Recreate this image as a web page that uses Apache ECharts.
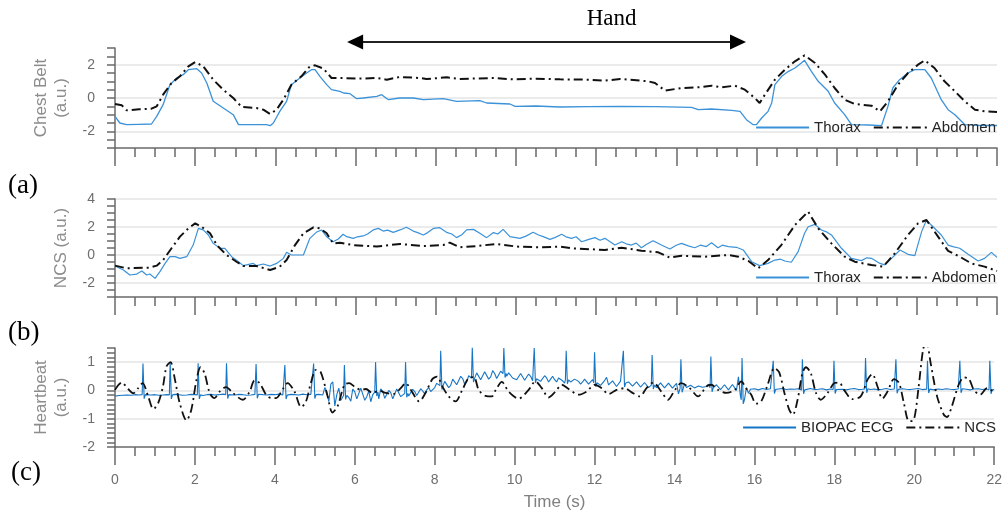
<!DOCTYPE html>
<html><head><meta charset="utf-8">
<script src="https://cdn.jsdelivr.net/npm/echarts@6/dist/echarts.min.js"></script>
<style>html,body{margin:0;padding:0;background:#fff}#c{width:1005px;height:512px}</style>
</head><body><div id="c"></div>
<script>
// ---------------- data ----------------
const timeTicks = [0,2,4,6,8,10,12,14,16,18,20,22];
const handSpan = [5.79, 15.74];

// (a) Chest belt
const beltThorax = [[0,-1.1],[0.12,-1.5],[0.29,-1.6],[0.6,-1.58],[0.91,-1.56],[1.04,-1.1],[1.2,-0.4],[1.37,0.8],[1.54,1.2],[1.7,1.4],[1.83,1.7],[2.04,1.76],[2.16,1.5],[2.29,0.9],[2.45,-0.2],[2.7,-0.6],[2.95,-1.0],[3.08,-1.6],[3.37,-1.6],[3.78,-1.6],[3.87,-1.66],[3.95,-1.5],[4.11,-0.8],[4.28,-0.2],[4.4,0.8],[4.61,1.2],[4.78,1.5],[4.9,1.7],[4.99,1.7],[5.11,1.3],[5.28,0.8],[5.4,0.5],[5.61,0.4],[5.7,0.3],[5.86,0.26],[6.03,-0.04],[6.19,0],[6.53,0.1],[6.65,0.2],[6.82,-0.1],[7.1,0],[7.44,0],[7.69,-0.1],[8.19,-0.04],[8.52,-0.2],[9.1,-0.16],[9.27,-0.3],[9.85,-0.36],[9.98,-0.5],[10.5,-0.48],[11.1,-0.54],[11.8,-0.52],[12.6,-0.5],[13.47,-0.52],[14.38,-0.56],[14.55,-0.7],[14.88,-0.66],[15.38,-0.74],[15.59,-0.8],[15.75,-1.3],[15.92,-1.6],[16.0,-1.6],[16.13,-1.2],[16.29,-0.8],[16.38,-0.3],[16.46,0.8],[16.63,1.3],[16.8,1.6],[16.96,1.8],[17.12,2.1],[17.2,2.26],[17.37,1.6],[17.54,1.0],[17.79,0.4],[17.95,-0.3],[18.2,-1.0],[18.37,-1.6],[18.8,-1.62],[19.12,-1.66],[19.28,-0.5],[19.4,0.6],[19.57,1.1],[19.78,1.5],[19.95,1.7],[20.2,1.7],[20.36,1.2],[20.61,-0.1],[20.78,-0.7],[20.95,-1.0],[21.2,-1.6],[21.6,-1.65],[22,-1.65]];
const beltAbdomen = [[0,-0.36],[0.17,-0.44],[0.29,-0.74],[0.6,-0.68],[0.91,-0.64],[1.04,-0.5],[1.2,0.2],[1.41,0.9],[1.62,1.3],[1.83,1.9],[2.0,2.16],[2.2,1.9],[2.45,1.1],[2.7,0.5],[2.95,0],[3.16,-0.54],[3.53,-0.6],[3.7,-0.7],[3.87,-0.96],[4.03,-0.7],[4.2,-0.1],[4.4,0.8],[4.65,1.3],[4.86,1.9],[4.99,1.96],[5.2,1.76],[5.4,1.2],[5.69,1.2],[6.03,1.16],[6.53,1.2],[6.78,1.1],[7.1,1.26],[7.6,1.2],[7.77,1.14],[8.27,1.24],[8.6,1.14],[9.43,1.2],[9.93,1.12],[10.5,1.16],[11.1,1.12],[11.8,1.1],[12.2,1.04],[12.6,1.14],[13.3,1.0],[13.47,0.9],[13.72,0.44],[14.13,0.6],[14.55,0.64],[14.88,0.74],[15.13,0.64],[15.46,0.74],[15.71,0.5],[15.96,0],[16.08,-0.3],[16.21,0.2],[16.46,1.1],[16.71,1.7],[16.96,2.2],[17.2,2.56],[17.46,2.1],[17.71,1.4],[17.95,0.6],[18.2,-0.1],[18.45,-0.36],[18.87,-0.46],[19.08,-0.8],[19.28,-0.2],[19.53,0.8],[19.78,1.5],[20.03,2.0],[20.2,2.26],[20.44,1.8],[20.69,1.0],[20.95,0.4],[21.2,-0.2],[21.45,-0.7],[21.7,-0.8],[22,-0.84]];

// (b) NCS
const ncsThorax = [[0,-0.79],[0.21,-1.07],[0.37,-1.43],[0.54,-1.36],[0.67,-1.14],[0.79,-1.43],[0.87,-1.36],[1.0,-1.67],[1.12,-1.19],[1.25,-0.6],[1.37,-0.12],[1.5,-0.12],[1.62,-0.24],[1.79,-0.12],[1.95,0.71],[2.08,1.9],[2.2,1.79],[2.33,1.43],[2.45,0.83],[2.62,0.48],[2.74,0.48],[2.91,-0.12],[3.08,-0.48],[3.2,-0.76],[3.45,-0.6],[3.53,-0.76],[3.7,-0.64],[3.87,-0.79],[4.03,-0.6],[4.2,-0.24],[4.28,0.19],[4.4,0],[4.7,0],[4.86,1.19],[5.02,1.62],[5.15,1.79],[5.28,1.31],[5.44,0.95],[5.57,1.14],[5.69,1.48],[5.78,1.31],[5.94,1.19],[6.05,1.3],[6.19,1.36],[6.3,1.5],[6.44,1.79],[6.57,1.9],[6.69,1.71],[6.8,1.78],[6.94,1.62],[7.11,1.79],[7.27,1.98],[7.44,1.71],[7.55,1.6],[7.69,1.43],[7.8,1.6],[7.94,1.9],[8.1,1.95],[8.27,1.62],[8.4,1.5],[8.52,1.24],[8.65,1.45],[8.77,1.79],[8.94,1.83],[9.1,1.55],[9.27,1.24],[9.44,1.6],[9.55,1.5],[9.68,1.83],[9.85,1.31],[10.1,1.19],[10.25,1.35],[10.43,1.62],[10.55,1.45],[10.68,1.31],[10.85,1.12],[10.97,1.24],[11.14,1.48],[11.25,1.3],[11.39,1.19],[11.5,1.3],[11.64,0.95],[11.8,1.1],[11.97,1.24],[12.1,1.05],[12.22,1.19],[12.35,0.95],[12.47,0.71],[12.64,0.95],[12.75,0.8],[12.88,0.71],[13.0,0.85],[13.13,0.52],[13.25,0.75],[13.42,1.02],[13.63,0.71],[13.84,0.43],[14.0,0.7],[14.13,0.83],[14.3,0.65],[14.46,0.52],[14.6,0.7],[14.75,0.6],[14.88,0.88],[15.04,0.52],[15.15,0.7],[15.3,0.6],[15.5,0.55],[15.67,0.36],[15.88,-0.48],[16.08,-0.76],[16.29,-0.6],[16.46,-0.36],[16.6,-0.3],[16.71,-0.43],[16.87,-0.52],[17.04,0.24],[17.2,1.55],[17.29,2.02],[17.46,2.19],[17.62,1.79],[17.75,1.65],[17.87,1.43],[18.12,0.48],[18.37,-0.24],[18.62,-0.4],[18.75,-0.2],[18.87,-0.24],[19.08,-0.6],[19.2,-0.71],[19.37,-0.24],[19.58,0.36],[19.78,0.05],[19.95,-0.05],[20.12,1.67],[20.24,2.5],[20.36,2.14],[20.61,1.43],[20.78,0.71],[20.9,0.6],[21.07,0.48],[21.28,0.05],[21.53,-0.43],[21.69,-0.24],[21.86,0.19],[22,-0.17]];
const ncsAbdomen = [[0,-0.76],[0.29,-0.95],[0.87,-0.9],[1.04,-0.76],[1.2,-0.36],[1.41,0.48],[1.62,1.31],[1.83,1.9],[2.0,2.26],[2.16,2.02],[2.37,1.55],[2.54,0.71],[2.78,0],[3.03,-0.48],[3.2,-0.79],[3.53,-0.79],[3.87,-1.07],[4.11,-0.83],[4.28,-0.36],[4.49,0.71],[4.7,1.55],[4.95,1.98],[5.11,1.9],[5.28,1.55],[5.44,0.83],[5.61,0.88],[5.94,0.71],[6.53,0.6],[7.11,0.79],[7.69,0.64],[8.19,0.71],[8.35,0.88],[8.6,0.55],[9.02,0.64],[9.52,0.79],[10.02,0.6],[10.6,0.55],[11.1,0.6],[11.39,0.48],[12.22,0.36],[12.64,0.52],[13.13,0.31],[13.55,0.19],[13.84,-0.19],[14.13,-0.05],[14.71,-0.12],[15.3,0],[15.55,-0.12],[15.8,-0.43],[16.04,-0.95],[16.29,-0.36],[16.62,0.71],[16.96,2.14],[17.29,3.1],[17.54,1.9],[17.87,0.83],[18.2,-0.12],[18.45,-0.48],[18.87,-0.71],[19.16,-0.83],[19.45,0.12],[19.78,1.43],[20.03,2.26],[20.24,2.5],[20.53,1.31],[20.78,0.29],[21.07,-0.12],[21.36,-0.6],[21.69,-0.83],[22,-1.14]];

// (c) Heartbeat: ECG baseline sampled every 0.1 s, extra mid-samples in the noisy span, R peaks, NCS heartbeat
const ecgStep = 0.1;
const ecgBaseline = [
 -0.2,-0.18,-0.17,-0.16,-0.17,-0.15,-0.16,-0.15,-0.18,-0.16,
 -0.15,-0.17,-0.16,-0.15,-0.16,-0.14,-0.15,-0.17,-0.16,-0.14,
 -0.15,-0.16,-0.18,-0.15,-0.14,-0.16,-0.15,-0.13,-0.15,-0.17,
 -0.16,-0.14,-0.15,-0.17,-0.16,-0.14,-0.13,-0.15,-0.16,-0.14,
 -0.15,-0.13,-0.16,-0.17,-0.14,-0.15,-0.16,-0.13,-0.15,-0.14,
 -0.15,-0.14,-0.16,-0.05,0.22,-0.55,0.08,-0.32,0.04,-0.38,
 -0.05,-0.28,0.02,-0.22,-0.4,0.0,-0.3,-0.04,-0.22,-0.08,
 -0.25,0.0,-0.2,-0.06,-0.16,-0.04,-0.12,-0.02,0.02,-0.04,
 0.1,0.22,0.12,0.3,0.18,0.36,0.26,0.42,0.3,0.46,
 0.4,0.56,0.44,0.6,0.48,0.6,0.46,0.64,0.5,0.56,
 0.5,0.44,0.56,0.42,0.5,0.4,0.46,0.38,0.44,0.4,
 0.38,0.44,0.34,0.38,0.3,0.4,0.32,0.3,0.36,0.28,
 0.27,0.32,0.24,0.46,0.22,0.3,0.2,0.27,0.22,0.26,
 0.2,0.27,0.17,0.23,0.15,0.25,0.16,0.21,0.15,0.19,
 0.15,-0.12,0.2,0.1,0.18,0.09,0.16,0.11,0.14,0.09,
 0.12,0.15,0.07,0.13,0.09,0.14,0.48,-0.42,0.1,0.04,
 0.06,0.02,0.07,0.03,0.06,0.02,0.05,0.07,0.03,0.05,
 0.04,0.06,0.02,0.05,0.07,0.03,0.04,0.06,0.02,0.05,
 0.03,0.06,0.04,0.02,0.05,0.07,0.03,0.04,0.06,0.03,
 0.05,0.02,0.04,0.07,0.03,0.05,0.02,0.06,0.04,0.03,
 0.05,0.07,0.03,0.04,0.06,0.02,0.05,0.03,0.06,0.04,
 0.03,0.05,0.07,0.04,0.02,0.05,0.06,0.03,0.05,0.02,
 0.03];
const ecgMidStart = 5.05;   // mid-samples at 5.05, 5.15, ... 15.95
const ecgMid = [
 -0.16,-0.14,0.1,-0.4,0.3,-0.15,-0.35,0.12,-0.25,0.05,
 -0.3,0.08,-0.35,-0.02,-0.15,-0.32,0.06,-0.28,0.0,-0.3,
 0.05,-0.22,0.02,-0.2,0.04,-0.18,0.06,-0.12,0.1,0.0,
 0.25,0.05,0.32,0.1,0.4,0.2,0.5,0.22,0.52,0.3,
 0.62,0.38,0.66,0.4,0.7,0.42,0.68,0.45,0.62,0.44,
 0.38,0.6,0.36,0.58,0.34,0.55,0.32,0.52,0.3,0.5,
 0.3,0.46,0.26,0.44,0.24,0.46,0.22,0.4,0.22,0.38,
 0.36,0.18,0.35,0.2,0.34,0.14,0.33,0.16,0.3,0.15,
 0.3,0.12,0.28,0.1,0.3,0.1,0.27,0.09,0.26,0.08,
 0.25,0.06,0.24,0.05,0.22,0.03,0.23,0.04,0.22,0.05,
 0.2,0.03,0.2,0.02,0.21,0.0,-0.2,0.35,-0.1,0.0];
const ecgPeakT = [0.70,1.38,2.08,2.79,3.53,4.25,4.97,5.74,6.52,7.27,8.15,8.94,9.73,10.49,11.29,12.0,12.72,13.44,14.16,14.91,15.69,16.47,17.2,17.99,18.78,19.54,20.33,21.14,21.89];
const ecgPeakV = [0.95,1.0,0.96,0.96,0.93,0.9,0.95,0.9,1.0,1.0,1.4,1.52,1.5,1.5,1.4,1.35,1.4,1.25,1.1,1.2,1.15,1.05,1.1,1.05,1.15,1.1,1.05,1.05,1.05];
const ncsHeart = [[0,0.02],[0.17,0.28],[0.33,0.05],[0.46,-0.1],[0.58,0.08],[0.69,0.26],[0.83,-0.21],[0.96,-0.66],[1.08,-0.45],[1.2,0.14],[1.29,0.85],[1.39,1.0],[1.5,0.38],[1.62,-0.45],[1.79,-1.06],[1.91,-0.68],[2.04,0.38],[2.14,0.82],[2.24,0.61],[2.37,-0.09],[2.49,-0.27],[2.62,-0.04],[2.78,0.12],[2.95,-0.09],[3.2,-0.33],[3.37,-0.04],[3.49,0.35],[3.62,0.26],[3.78,-0.15],[3.91,-0.27],[4.03,-0.27],[4.2,0.05],[4.32,0.26],[4.49,-0.04],[4.66,-0.59],[4.78,-0.39],[4.9,0.26],[5.03,0.73],[5.15,0.64],[5.32,-0.21],[5.44,-0.78],[5.57,-0.56],[5.74,0.2],[5.86,0.26],[5.99,0.14],[6.15,0.02],[6.28,0.05],[6.44,-0.09],[6.61,-0.01],[6.77,-0.09],[6.98,-0.12],[7.15,0.08],[7.27,0.26],[7.44,-0.07],[7.61,-0.39],[7.77,-0.09],[7.94,0.4],[8.06,0.49],[8.19,0.14],[8.35,-0.21],[8.52,-0.39],[8.69,0.02],[8.85,0.44],[8.98,0.47],[9.1,0.02],[9.27,-0.19],[9.43,-0.21],[9.52,0.0],[9.68,0.3],[9.85,-0.04],[10.1,-0.29],[10.35,0.02],[10.52,0.32],[10.68,0.08],[10.85,-0.25],[11.02,-0.04],[11.18,0.2],[11.35,0.05],[11.6,-0.15],[11.8,-0.04],[12.0,0.2],[12.18,0.08],[12.35,-0.13],[12.55,0.02],[12.76,0.08],[12.93,-0.07],[13.13,-0.21],[13.3,0.08],[13.47,0.28],[13.67,-0.04],[13.84,-0.33],[14.01,0.02],[14.17,0.26],[14.38,0.08],[14.59,-0.21],[14.8,0.14],[14.92,0.2],[15.09,0.02],[15.3,-0.09],[15.51,0.02],[15.67,0.32],[15.79,0.08],[15.92,-0.15],[16.04,-0.47],[16.17,-0.39],[16.33,0.2],[16.5,0.79],[16.62,0.64],[16.75,-0.09],[16.87,-0.68],[16.96,-0.86],[17.08,-0.33],[17.2,0.61],[17.29,0.82],[17.41,0.61],[17.54,-0.09],[17.66,-0.33],[17.83,-0.09],[18.0,0.26],[18.12,0.28],[18.25,0],[18.45,-0.31],[18.66,-0.21],[18.83,0.38],[18.95,0.58],[19.08,0.14],[19.2,-0.29],[19.33,-0.04],[19.49,0.4],[19.62,0.26],[19.74,-0.45],[19.87,-1.09],[19.99,-1.04],[20.11,0.14],[20.22,1.44],[20.3,1.75],[20.41,0.96],[20.57,-0.21],[20.74,-0.86],[20.82,-0.94],[20.94,-0.56],[21.11,0.2],[21.24,0.46],[21.37,0.4],[21.49,0.02],[21.65,-0.15],[21.82,0.08],[21.98,-0.04]];

// ---------------- build ----------------
function baseAt(t){
  const i = Math.floor(t/ecgStep), f = t/ecgStep - i;
  const a = ecgBaseline[i], b = ecgBaseline[Math.min(i+1, ecgBaseline.length-1)];
  return a + (b-a)*f;
}
function buildEcg(){
  let pts = ecgBaseline.map((v,i)=>[+(i*ecgStep).toFixed(3), v])
    .concat(ecgMid.map((v,i)=>[+(ecgMidStart + i*ecgStep).toFixed(3), v]));
  pts = pts.filter(p => !ecgPeakT.some(tb => p[0] > tb-0.03 && p[0] < tb+0.07));
  ecgPeakT.forEach((tb,k)=>{
    const b = baseAt(tb);
    pts.push([tb-0.02,b],[tb,ecgPeakV[k]],[tb+0.03,b-0.14],[tb+0.06,b]);
  });
  pts.sort((a,b)=>a[0]-b[0]);
  return pts;
}

const FONT = '"Liberation Sans", Arial, sans-serif';
const SERIF = '"Liberation Serif", "Times New Roman", serif';
const AX = '#6a6a6a';
const GRIDC = '#e4e4e4';
const NONE = 'rgba(0,0,0,0)';
const BLUE = '#3b92d8';
const ECG = '#1675c4';
const DASH = [9,4,2,4];

const grids = [
  {left:115, right:8, top:48, height:100},
  {left:115, right:8, top:199, height:98},
  {left:115, right:8, top:348, height:99}
];

function xAx(gi, labels){
  const o = {type:'value', gridIndex:gi, min:0, max:22, interval:2,
    axisLine:{show:true, onZero:false, lineStyle:{color:AX, width:1.5}},
    axisTick:{show:true, length:18, lineStyle:{color:AX, width:1.5}},
    minorTick:{show:true, splitNumber:4, length:9, lineStyle:{color:AX, width:1.5}},
    splitLine:{show:false},
    axisLabel:{show:labels, margin:26, color:'#6e6e6e', fontSize:14, fontFamily:FONT,
      formatter: v => timeTicks.includes(v) ? String(v) : ''}
  };
  if (labels){
    o.name = 'Time (s)'; o.nameLocation = 'middle'; o.nameGap = 47;
    o.nameTextStyle = {color:'#808080', fontSize:17, fontFamily:FONT};
  }
  return o;
}
function yAx(gi, min, max, interval, minorSplit, labelFn, gridColors, name, gap){
  return {type:'value', gridIndex:gi, min:min, max:max, interval:interval,
    axisLine:{show:true, onZero:false, lineStyle:{color:AX, width:1.5}},
    axisTick:{show:true, length:8, lineStyle:{color:AX, width:1.5}},
    minorTick:{show:true, splitNumber:minorSplit, length:8, lineStyle:{color:AX, width:1.5}},
    splitLine:{show:true, lineStyle:{color:gridColors, width:1.5}},
    axisLabel:{margin:20, color:'#6e6e6e', fontSize:14, fontFamily:FONT, formatter:labelFn},
    name:name, nameLocation:'middle', nameGap:gap, nameRotate:90,
    nameTextStyle:{color:'#8c8c8c', fontSize:17, fontFamily:FONT, lineHeight:20, align:'center'}
  };
}
const evenLbl = v => (Math.abs(v % 2) < 1e-9) ? String(v) : '';
const intLbl = v => (Math.abs(v - Math.round(v)) < 1e-9) ? String(Math.round(v)) : '';

function lineS(name, xi, data, color, width, dash, smooth){
  return {type:'line', name:name, xAxisIndex:xi, yAxisIndex:xi, data:data,
    symbol:'none', showSymbol:false, smooth:smooth||false, clip:true,
    lineStyle:{color:color, width:width, type:dash||'solid'}, itemStyle:{color:color},
    animation:false};
}

const legendBase = {orient:'horizontal', right:9, itemWidth:53, itemHeight:14, itemGap:12,
  itemStyle:{opacity:0},
  textStyle:{fontSize:15, color:'#262626', fontFamily:FONT}, padding:0};

const chart = echarts.init(document.getElementById('c'), null, {renderer:'canvas'});
chart.setOption({
  animation:false,
  backgroundColor:'#fff',
  grid: grids,
  xAxis: [xAx(0,false), xAx(1,false), xAx(2,true)],
  yAxis: [
    yAx(0,-3,3,1,2,evenLbl,[NONE,GRIDC],'Chest Belt\n(a.u.)',42),
    yAx(1,-3,4,1,2,evenLbl,[NONE,GRIDC],'NCS (a.u.)',37),
    yAx(2,-2,1.5,0.5,3,intLbl,[NONE,NONE,GRIDC,NONE,GRIDC,NONE,GRIDC,NONE],'Heartbeat\n(a.u.)',37)
  ],
  legend: [
    Object.assign({}, legendBase, {top:120, data:['Thorax','Abdomen']}),
    Object.assign({}, legendBase, {top:270, data:['Thorax','Abdomen']}),
    Object.assign({}, legendBase, {top:420, data:['BIOPAC ECG','NCS']})
  ],
  series: [
    lineS('Thorax',0,beltThorax,BLUE,1.3),
    lineS('Abdomen',0,beltAbdomen,'#111',2,DASH),
    lineS('Thorax',1,ncsThorax,BLUE,1.2),
    lineS('Abdomen',1,ncsAbdomen,'#111',2,DASH),
    lineS('BIOPAC ECG',2,buildEcg(),ECG,1.1),
    lineS('NCS',2,ncsHeart,'#111',1.8,DASH,0.3)
  ]
});

const pL = chart.convertToPixel({xAxisIndex:0}, handSpan[0]);
const pR = chart.convertToPixel({xAxisIndex:0}, handSpan[1]);
const ay = 42;
chart.setOption({
  graphic: [
    {type:'text', x:8, y:186, style:{text:'(a)', fontSize:27, fontFamily:SERIF, fill:'#000', verticalAlign:'middle'}},
    {type:'text', x:8, y:333, style:{text:'(b)', fontSize:27, fontFamily:SERIF, fill:'#000', verticalAlign:'middle'}},
    {type:'text', x:11, y:473, style:{text:'(c)', fontSize:27, fontFamily:SERIF, fill:'#000', verticalAlign:'middle'}},
    {type:'text', x:(pL+pR)/2+65, y:19, style:{text:'Hand', fontSize:23, fontFamily:SERIF, fill:'#000', align:'center', verticalAlign:'middle'}},
    {type:'line', shape:{x1:pL+12, y1:ay, x2:pR-12, y2:ay}, style:{stroke:'#222', lineWidth:2}},
    {type:'polygon', shape:{points:[[pL,ay],[pL+16,ay-7.5],[pL+16,ay+7.5]]}, style:{fill:'#000'}},
    {type:'polygon', shape:{points:[[pR,ay],[pR-16,ay-7.5],[pR-16,ay+7.5]]}, style:{fill:'#000'}}
  ]
});
</script></body></html>
